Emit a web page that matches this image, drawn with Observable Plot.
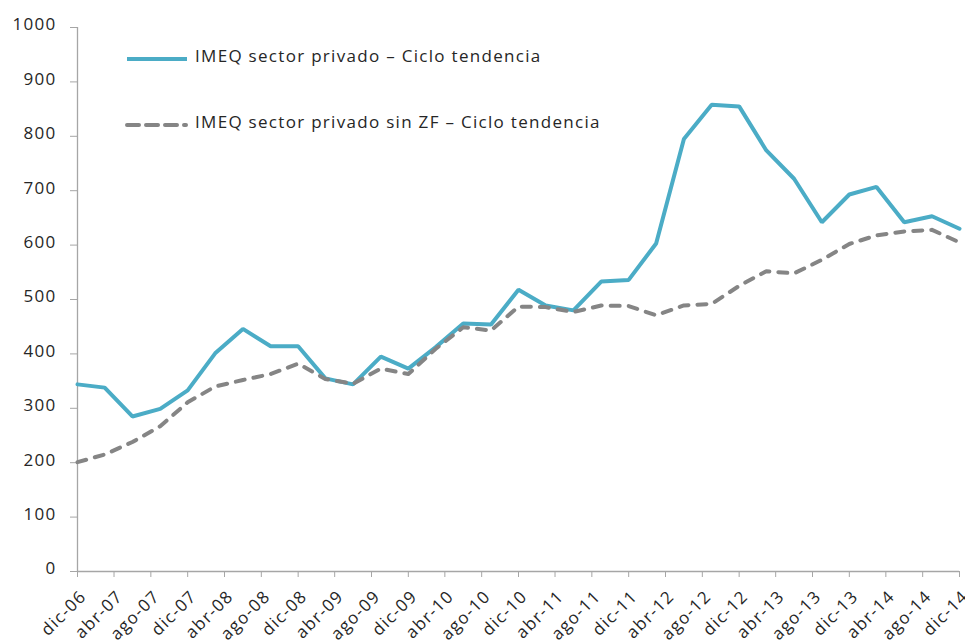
<!DOCTYPE html>
<html><head><meta charset="utf-8">
<script src="https://cdn.jsdelivr.net/npm/d3@7"></script>
<script src="https://cdn.jsdelivr.net/npm/@observablehq/plot@0.6"></script>
<style>
body{margin:0;background:#fff;}
#wrap{position:relative;width:965px;height:643px;overflow:hidden;font-family:"Open Sans",sans-serif;background:#fff;}
.lg-text{position:absolute;left:195px;font-size:17px;line-height:1;letter-spacing:1.3px;color:#262626;white-space:nowrap;}
.lg-swatch{position:absolute;left:123px;}
</style></head><body><div id="wrap"></div>
<script>
// Quarterly periods (year-month)
const periods = ["2006-12","2007-03","2007-06","2007-09","2007-12","2008-03","2008-06","2008-09","2008-12",
  "2009-03","2009-06","2009-09","2009-12","2010-03","2010-06","2010-09","2010-12",
  "2011-03","2011-06","2011-09","2011-12","2012-03","2012-06","2012-09","2012-12",
  "2013-03","2013-06","2013-09","2013-12","2014-03","2014-06","2014-09","2014-12"];
// IMEQ sector privado – Ciclo tendencia
const imeq = [344,338,285,299,333,401,446,414,414,355,344,395,373,412,456,454,518,
  489,480,533,536,603,795,858,855,774,722,642,693,707,642,653,630];
// IMEQ sector privado sin ZF – Ciclo tendencia
const imeqSinZF = [201,215,238,267,311,340,352,363,382,354,345,373,363,409,449,443,487,
  486,477,489,488,471,489,492,525,552,548,573,602,618,625,628,605];
const seriesNames = ["IMEQ sector privado – Ciclo tendencia","IMEQ sector privado sin ZF – Ciclo tendencia"];
const tickPeriods = ["2006-12","2007-04","2007-08","2007-12","2008-04","2008-08","2008-12","2009-04","2009-08",
  "2009-12","2010-04","2010-08","2010-12","2011-04","2011-08","2011-12","2012-04","2012-08","2012-12",
  "2013-04","2013-08","2013-12","2014-04","2014-08","2014-12"];
const tickLabels = ["dic-06","abr-07","ago-07","dic-07","abr-08","ago-08","dic-08","abr-09","ago-09",
  "dic-09","abr-10","ago-10","dic-10","abr-11","ago-11","dic-11","abr-12","ago-12","dic-12",
  "abr-13","ago-13","dic-13","abr-14","ago-14","dic-14"];
const yTicks = [0,100,200,300,400,500,600,700,800,900,1000];

const parse = d3.utcParse("%Y-%m");
const rows = periods.map((p, i) => ({date: parse(p), a: imeq[i], b: imeqSinZF[i]}));
const tickDates = tickPeriods.map(parse);
const labelMap = new Map(tickDates.map((d, i) => [+d, tickLabels[i]]));
const axisColor = "#a6a6a6";
const blue = "#4bacc6";
const gray = "#858585";

const chart = Plot.plot({
  width: 965, height: 643,
  marginLeft: 77, marginRight: 6, marginTop: 27, marginBottom: 72,
  style: {fontFamily: "Open Sans, sans-serif", fontSize: "17px", letterSpacing: "1.3px", color: "#262626", background: "#fff"},
  x: {type: "utc", domain: [tickDates[0], tickDates[tickDates.length - 1]]},
  y: {domain: [0, 1000]},
  marks: [
    // tick marks only
    Plot.axisY({ticks: yTicks, tickSize: 7, tickFormat: () => "", stroke: axisColor, label: null}),
    Plot.axisX({ticks: tickDates, tickSize: 6, tickFormat: () => "", stroke: axisColor, label: null}),
    // tick labels only
    Plot.axisY({ticks: yTicks, tickSize: 0, tickPadding: 21, dy: -2.5, tickFormat: d => String(d), label: null, fontSize: 17}),
    Plot.axisX({ticks: tickDates, tickSize: 0, tickPadding: 22, dx: 6, tickRotate: -45, tickFormat: d => labelMap.get(+d), label: null, fontSize: 17}),
    Plot.ruleX([tickDates[0]], {stroke: axisColor, strokeWidth: 1.3}),
    Plot.ruleY([0], {stroke: axisColor, strokeWidth: 1.3}),
    Plot.line(rows, {x: "date", y: "a", stroke: blue, strokeWidth: 4, strokeLinejoin: "miter"}),
    Plot.line(rows, {x: "date", y: "b", stroke: gray, strokeWidth: 4, strokeDasharray: "9,9", strokeLinecap: "round"})
  ]
});
const wrap = document.getElementById("wrap");
wrap.appendChild(chart);
chart.style.position = "absolute"; chart.style.left = "0"; chart.style.top = "0";

function legendItem(name, lineY, textTop, dashed, color) {
  const ns = "http://www.w3.org/2000/svg";
  const s = document.createElementNS(ns, "svg");
  s.setAttribute("width", 68); s.setAttribute("height", 10);
  s.setAttribute("class", "lg-swatch");
  s.style.top = (lineY - 5) + "px";
  const l = document.createElementNS(ns, "line");
  l.setAttribute("x1", 4); l.setAttribute("x2", dashed ? 63 : 64);
  l.setAttribute("y1", 5); l.setAttribute("y2", 5);
  l.setAttribute("stroke", color); l.setAttribute("stroke-width", 4);
  if (dashed) { l.setAttribute("stroke-dasharray", "12,7"); l.setAttribute("stroke-linecap", "round"); }
  s.appendChild(l);
  wrap.appendChild(s);
  const t = document.createElement("div");
  t.className = "lg-text"; t.style.top = textTop + "px"; t.textContent = name;
  wrap.appendChild(t);
}
legendItem(seriesNames[0], 59, 47, false, blue);
legendItem(seriesNames[1], 125, 113, true, gray);
</script>
</body></html>
